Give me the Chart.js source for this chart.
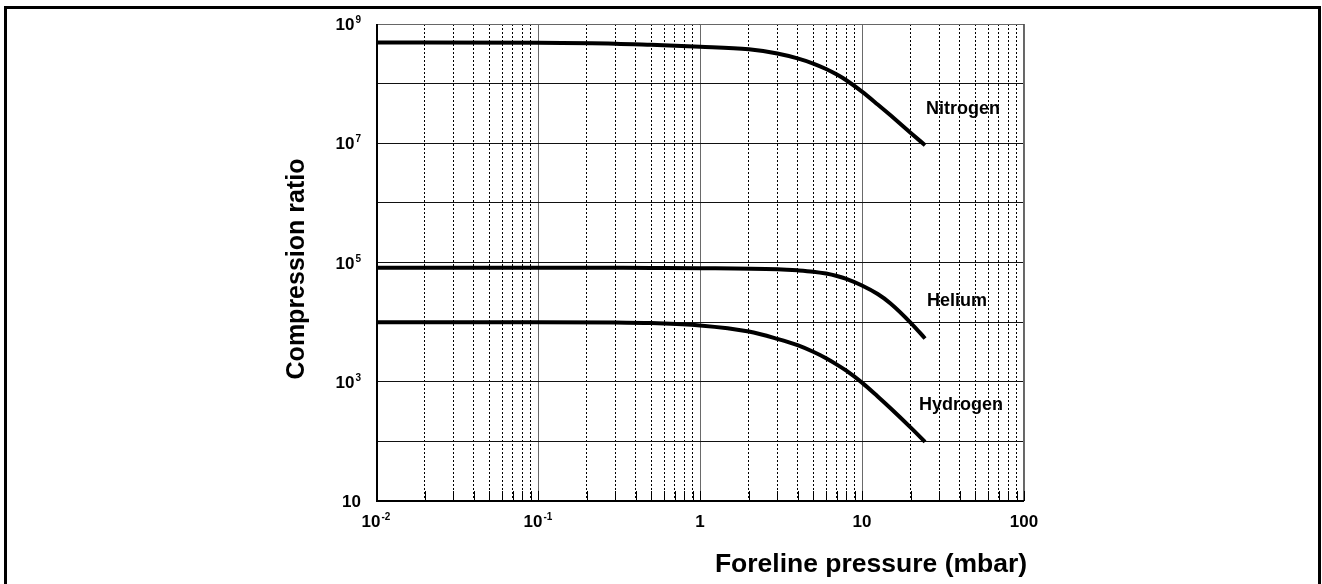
<!DOCTYPE html>
<html>
<head>
<meta charset="utf-8">
<script src="https://cdn.jsdelivr.net/npm/chart.js@4.4.1/dist/chart.umd.min.js"></script>
<style>
    body { margin: 0; background: #fff; }
    #wrap { position: relative; width: 1322px; height: 584px; overflow: hidden; }
    #frame {
        position: absolute; left: 4px; top: 6px; width: 1311px; height: 600px;
        border: 3px solid #000; border-bottom: none;
    }
    #chart { position: absolute; left: 0; top: 0; }
</style>
</head>
<body>
<div id="wrap">
    <div id="frame"></div>
    <canvas id="chart" width="1322" height="584"></canvas>
</div>
<script>
// foreline pressure (mbar) and compression ratio for each gas
let nitrogenP = [0.01, 0.1, 0.3, 0.5, 1, 2, 3, 4, 5, 6, 7, 8, 10, 12.5, 15, 20, 24.5];
let nitrogenK = [4.9e8, 4.84e8, 4.68e8, 4.47e8, 4.17e8, 3.76e8, 3.2e8, 2.65e8, 2.17e8, 1.76e8, 1.42e8, 1.14e8, 7.35e7, 4.47e7, 2.94e7, 1.49e7, 9.27e6];

let heliumP = [0.01, 0.1, 0.5, 1, 3, 4, 5, 6, 7, 8, 10, 12.5, 15, 20, 24.5];
let heliumK = [8.2e4, 8.2e4, 8.1e4, 8.04e4, 7.69e4, 7.38e4, 7.02e4, 6.52e4, 5.94e4, 5.33e4, 4.12e4, 2.96e4, 2.06e4, 9.75e3, 5.31e3];

let hydrogenP = [0.01, 0.1, 0.3, 0.5, 1, 2, 3, 4, 5, 6, 7, 8, 10, 12.5, 15, 20, 24.5];
let hydrogenK = [1.0e4, 1.0e4, 9.89e3, 9.64e3, 8.81e3, 6.97e3, 5.25e3, 4.11e3, 3.18e3, 2.48e3, 1.94e3, 1.53e3, 966, 565, 359, 170, 98];

// curve names and where they are written (pressure, ratio)
let gasNames = ["Nitrogen", "Helium", "Hydrogen"];
let gasLabelP = [42, 38.6, 40.8];
let gasLabelK = [3.7e7, 2.3e4, 400];

// axis tick labels: [base, exponent]
let xTickValues = [0.01, 0.1, 1, 10, 100];
let xTickText = [["10", "-2"], ["10", "-1"], ["1", ""], ["10", ""], ["100", ""]];
let yTickValues = [10, 1e3, 1e5, 1e7, 1e9];
let yTickText = [["10", ""], ["10", "3"], ["10", "5"], ["10", "7"], ["10", "9"]];

let xTitle = "Foreline pressure (mbar)";
let yTitle = "Compression ratio";

// grid: every 1..9 x decade on x, decades only on y
let xGrid = [];
for (let d = -2; d < 2; d++) {
    for (let m = 1; m < 10; m++) xGrid.push(m * Math.pow(10, d));
}
xGrid.push(100);
let yGrid = [10, 1e2, 1e3, 1e4, 1e5, 1e6, 1e7, 1e8, 1e9];

function isDecade(v) {
    let l = Math.log10(v);
    return Math.abs(l - Math.round(l)) < 1e-6;
}

function toPoints(p, k) {
    return p.map((x, i) => ({ x: x, y: k[i] }));
}

const FONT = "'Liberation Sans', Arial, sans-serif";

function drawPow(ctx, base, exp, x, y, align) {
    ctx.font = "bold 17px " + FONT;
    let wb = ctx.measureText(base).width;
    ctx.font = "bold 10px " + FONT;
    let we = exp ? ctx.measureText(exp).width + 1 : 0;
    let w = wb + we;
    let x0 = align === "right" ? x - w : x - w / 2;
    ctx.textAlign = "left";
    ctx.textBaseline = "alphabetic";
    ctx.font = "bold 17px " + FONT;
    ctx.fillText(base, x0, y + 6);
    if (exp) {
        ctx.font = "bold 10px " + FONT;
        ctx.fillText(exp, x0 + wb + 1, y - 1);
    }
}

const decorations = {
    id: "decorations",
    afterDraw(chart) {
        let ctx = chart.ctx;
        let a = chart.chartArea;
        let xs = chart.scales.x;
        let ys = chart.scales.y;
        ctx.save();

        // small inner ticks along the bottom
        ctx.strokeStyle = "#000";
        ctx.lineWidth = 1;
        xGrid.forEach((v) => {
            let px = Math.round(xs.getPixelForValue(v)) + 0.5;
            ctx.beginPath();
            ctx.moveTo(px, a.bottom);
            ctx.lineTo(px, a.bottom - 10);
            ctx.stroke();
        });

        // plot frame
        ctx.strokeStyle = "#666";
        ctx.beginPath();
        ctx.moveTo(a.left, a.top + 0.5);
        ctx.lineTo(a.right - 0.5, a.top + 0.5);
        ctx.lineTo(a.right - 0.5, a.bottom);
        ctx.stroke();
        ctx.strokeStyle = "#000";
        ctx.lineWidth = 2;
        ctx.beginPath();
        ctx.moveTo(a.left + 1, a.top);
        ctx.lineTo(a.left + 1, a.bottom);
        ctx.lineTo(a.right, a.bottom);
        ctx.stroke();

        ctx.fillStyle = "#000";
        xTickValues.forEach((v, i) => {
            drawPow(ctx, xTickText[i][0], xTickText[i][1], xs.getPixelForValue(v), a.bottom + 20, "center");
        });
        yTickValues.forEach((v, i) => {
            drawPow(ctx, yTickText[i][0], yTickText[i][1], a.left - 15, ys.getPixelForValue(v), "right");
        });

        // curve names
        ctx.font = "bold 18px " + FONT;
        ctx.textAlign = "center";
        ctx.textBaseline = "middle";
        gasNames.forEach((n, i) => {
            ctx.fillText(n, xs.getPixelForValue(gasLabelP[i]), ys.getPixelForValue(gasLabelK[i]));
        });

        // axis titles
        ctx.font = "bold 26.5px " + FONT;
        ctx.fillText(xTitle, 871, 565);
        ctx.font = "bold 25px " + FONT;
        ctx.translate(297, 269);
        ctx.rotate(-Math.PI / 2);
        ctx.fillText(yTitle, 0, 0);
        ctx.restore();
    },
};

function gasDataset(p, k) {
    return {
        data: toPoints(p, k),
        borderColor: "#000",
        borderWidth: 4,
        pointRadius: 0,
        cubicInterpolationMode: "monotone",
        fill: false,
    };
}

let ctx = document.querySelector("#chart").getContext("2d");
let myChart = new Chart(ctx, {
    type: "line",
    data: {
        datasets: [
            gasDataset(nitrogenP, nitrogenK),
            gasDataset(heliumP, heliumK),
            gasDataset(hydrogenP, hydrogenK),
        ],
    },
    options: {
        responsive: false,
        animation: false,
        devicePixelRatio: 1,
        layout: { padding: { left: 0, right: 298, top: 24, bottom: 0 } },
        plugins: { legend: { display: false }, tooltip: { enabled: false } },
        scales: {
            x: {
                type: "logarithmic",
                min: 0.01,
                max: 100,
                afterBuildTicks: (s) => { s.ticks = xGrid.map((v) => ({ value: v })); },
                afterFit: (s) => { s.height = 83; },
                ticks: { display: false },
                grid: {
                    drawTicks: false,
                    color: (c) => (c.tick && isDecade(c.tick.value) ? "#6a6a6a" : "#000"),
                    lineWidth: 1,
                },
                border: {
                    display: false,
                    dash: (c) => (c.tick && isDecade(c.tick.value) ? [] : [2, 2]),
                },
            },
            y: {
                type: "logarithmic",
                min: 10,
                max: 1e9,
                afterBuildTicks: (s) => { s.ticks = yGrid.map((v) => ({ value: v })); },
                afterFit: (s) => { s.width = 376; },
                ticks: { display: false },
                grid: { drawTicks: false, color: "#111", lineWidth: 1 },
                border: { display: false },
            },
        },
    },
    plugins: [decorations],
});
</script>
</body>
</html>
